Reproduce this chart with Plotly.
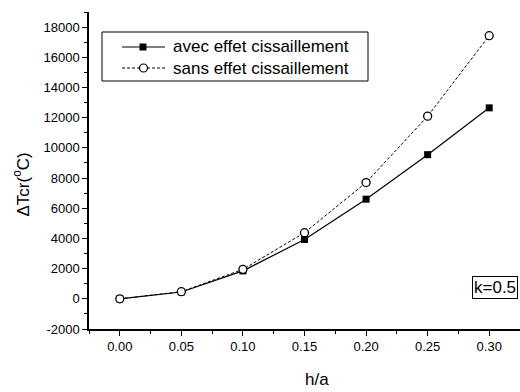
import plotly.graph_objects as go

# h/a ratio and critical temperature difference (°C)
h_a = [0.00, 0.05, 0.10, 0.15, 0.20, 0.25, 0.30]
avec_cisaillement = [0, 450, 1850, 3930, 6600, 9550, 12650]
sans_cisaillement = [0, 470, 1950, 4380, 7700, 12100, 17430]

series_names = ["avec effet cissaillement", "sans effet cissaillement"]

x_ticks = [0.00, 0.05, 0.10, 0.15, 0.20, 0.25, 0.30]
x_tick_labels = ["0.00", "0.05", "0.10", "0.15", "0.20", "0.25", "0.30"]
y_ticks = list(range(-2000, 18001, 2000))
y_tick_labels = [str(v) for v in y_ticks]

font_family = "Liberation Sans, Arial, sans-serif"

# plot area geometry in pixels (used to place the legend box in paper units)
W, H = 520, 392
ML, MR, MT, MB = 89, 0, 12, 63
PW, PH = W - ML - MR, H - MT - MB


def px(x):
    return (x - ML) / PW


def py(y):
    return (H - MB - y) / PH


line_styles = [
    dict(color="black", width=1.2),
    dict(color="black", width=1, dash="3px,2px"),
]

fig = go.Figure()
fig.add_trace(go.Scatter(
    x=h_a, y=avec_cisaillement, mode="lines+markers",
    name=series_names[0], line=line_styles[0],
    marker=dict(symbol="square", size=7, color="black"),
))
fig.add_trace(go.Scatter(
    x=h_a, y=sans_cisaillement, mode="lines+markers",
    name=series_names[1], line=line_styles[1],
    marker=dict(symbol="circle", size=8, color="white",
                line=dict(width=1.3, color="black")),
))

axis_common = dict(
    showline=True, linecolor="black", linewidth=1.5,
    ticks="outside", ticklen=5, tickwidth=1.3, tickcolor="black",
    showgrid=False, zeroline=False, mirror=False,
    tickfont=dict(family=font_family, size=13, color="black"),
)

fig.update_xaxes(
    range=[-0.025, 0.325], tickvals=x_ticks, ticktext=x_tick_labels,
    minor=dict(ticks="outside", ticklen=3, dtick=0.025, tick0=-0.025,
               tickcolor="black", tickwidth=1.2, showgrid=False),
    **axis_common,
)
fig.update_yaxes(
    range=[-2000, 19000], tickvals=y_ticks, ticktext=y_tick_labels,
    minor=dict(ticks="outside", ticklen=3, dtick=1000, tick0=-2000,
               tickcolor="black", tickwidth=1.2, showgrid=False),
    **axis_common,
)

# legend drawn as a framed box with line samples and markers
shapes = [dict(type="rect", xref="paper", yref="paper",
               x0=px(102), x1=px(368), y0=py(81), y1=py(32),
               line=dict(color="black", width=1), fillcolor="white", layer="above")]
annotations = []
row_y = [47, 68]
for i, name in enumerate(series_names):
    yy = py(row_y[i])
    ls = dict(line_styles[i])
    shapes.append(dict(type="line", xref="paper", yref="paper",
                       x0=px(122), x1=px(165), y0=yy, y1=yy,
                       line=ls, layer="above"))
    annotations.append(dict(text=name, xref="paper", yref="paper",
                            x=px(171), y=yy, xanchor="left", yanchor="middle",
                            showarrow=False,
                            font=dict(family=font_family, size=17, color="black")))
# legend markers
shapes.append(dict(type="rect", xref="paper", yref="paper",
                   x0=px(139.5), x1=px(146.5), y0=py(row_y[0] + 3.5), y1=py(row_y[0] - 3.5),
                   line=dict(color="black", width=0), fillcolor="black", layer="above"))
shapes.append(dict(type="circle", xref="paper", yref="paper",
                   x0=px(139.5), x1=px(147.5), y0=py(row_y[1] + 4), y1=py(row_y[1] - 4),
                   line=dict(color="black", width=1.2), fillcolor="white", layer="above"))

annotations += [
    dict(text="k=0.5", xref="paper", yref="paper", x=0.995, y=py(287),
         xanchor="right", yanchor="middle", showarrow=False,
         bordercolor="black", borderwidth=1, borderpad=1, bgcolor="white",
         font=dict(family=font_family, size=17, color="black")),
    dict(text="h/a", xref="paper", yref="paper", x=px(317), y=py(380),
         xanchor="center", yanchor="middle", showarrow=False,
         font=dict(family=font_family, size=17, color="black")),
    dict(text="ΔTcr(<sup>o</sup>C)", xref="paper", yref="paper",
         x=px(21.5), y=py(185), xanchor="center", yanchor="middle",
         textangle=-90, showarrow=False,
         font=dict(family=font_family, size=17, color="black")),
]

fig.update_layout(
    width=W, height=H,
    margin=dict(l=ML, r=MR, t=MT, b=MB),
    plot_bgcolor="white", paper_bgcolor="white",
    font=dict(family=font_family, color="black"),
    showlegend=False,
    shapes=shapes,
    annotations=annotations,
)

fig.write_html("out.html")
